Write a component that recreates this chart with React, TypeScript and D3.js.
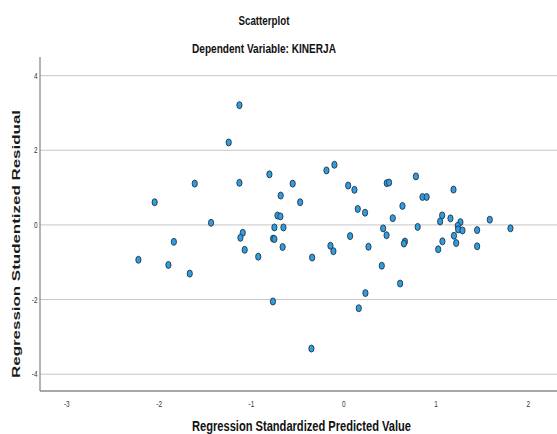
import React from "react";
import * as d3 from "d3";

const predicted: number[] = [
  -1.13, -1.246, -1.614, -1.13, -0.805, -2.048, -0.683, -0.718, -0.686, -1.437,
  -1.094, -1.119, -1.84, -1.073, -0.926, -2.224, -1.899, -1.668, -0.751, -0.653,
  -0.765, -0.751, -0.662, -0.472, -0.342, 0.152, 0.231, 0.636, 0.531, 0.427,
  0.464, 0.069, -0.144, -0.112, 0.268, 0.663, 0.652, 0.801, 1.066, 1.044,
  1.156, 1.264, 1.235, 1.239, 1.286, 1.445, 1.582, 1.806, 1.194, 1.069,
  1.218, 1.023, 1.445, 0.412, 0.611, 0.235, -0.767, 0.163, -0.35, -0.101,
  -0.187, -0.553, 0.048, 0.116, 0.466, 0.491, 0.782, 0.853, 0.898, 1.189,
];

const residual: number[] = [
  3.21, 2.21, 1.107, 1.128, 1.355, 0.608, 0.787, 0.253, 0.229, 0.056,
  -0.211, -0.344, -0.453, -0.667, -0.851, -0.933, -1.072, -1.304, -0.067, -0.067,
  -0.365, -0.379, -0.592, 0.608, -0.872, 0.429, 0.328, 0.509, 0.181, -0.093,
  -0.277, -0.299, -0.557, -0.704, -0.584, -0.445, -0.499, -0.053, 0.256, 0.093,
  0.176, 0.075, -0.024, -0.12, -0.147, -0.139, 0.141, -0.091, -0.291, -0.44,
  -0.485, -0.653, -0.573, -1.093, -1.571, -1.827, -2.051, -2.232, -3.312, 1.613,
  1.461, 1.107, 1.056, 0.941, 1.12, 1.136, 1.301, 0.749, 0.749, 0.947,
];

const xTicks: number[] = [-3, -2, -1, 0, 1, 2];
const yTicks: number[] = [-4, -2, 0, 2, 4];

const titleText = "Scatterplot";
const subtitleText = "Dependent Variable: KINERJA";
const xLabel = "Regression Standardized Predicted Value";
const yLabel = "Regression Studentized Residual";

const W = 557;
const H = 434;
const left = 40;
const right = 557;
const top = 57;
const bottom = 391;

export default function App() {
  const x = d3.scaleLinear().domain([-3.29, 2.31]).range([left, right]);
  const y = d3.scaleLinear().domain([-4.45, 4.5]).range([bottom, top]);
  const font = "'Liberation Sans', Arial, sans-serif";

  return (
    <svg
      width={W}
      height={H}
      style={{ position: "absolute", left: 0, top: 0, background: "#fff" }}
    >
      <rect x={0} y={0} width={W} height={H} fill="#fff" />
      {yTicks.map((t) => (
        <line
          key={"g" + t}
          x1={left}
          x2={W}
          y1={y(t)}
          y2={y(t)}
          stroke="#c6c6c6"
          strokeWidth={1}
        />
      ))}
      <line x1={left} x2={left} y1={top} y2={bottom} stroke="#8a8a8a" strokeWidth={1.3} />
      <line x1={left} x2={W} y1={bottom} y2={bottom} stroke="#8a8a8a" strokeWidth={1.3} />

      {yTicks.map((t) => (
        <text
          key={"yl" + t}
          transform={`translate(37.5, ${y(t) + 3}) scale(0.75, 1)`}
          textAnchor="end"
          fontFamily={font}
          fontSize={8.5}
          fill="#333"
        >
          {t}
        </text>
      ))}
      {xTicks.map((t) => (
        <text
          key={"xl" + t}
          transform={`translate(${x(t)}, 407) scale(0.75, 1)`}
          textAnchor="middle"
          fontFamily={font}
          fontSize={8.5}
          fill="#333"
        >
          {t}
        </text>
      ))}

      {predicted.map((p, i) => (
        <ellipse
          key={"p" + i}
          cx={x(p)}
          cy={y(residual[i])}
          rx={2.6}
          ry={3.5}
          fill="#2e9de2"
          stroke="#26333f"
          strokeWidth={0.9}
        />
      ))}

      <text
        x={264}
        y={24.5}
        textAnchor="middle"
        fontFamily={font}
        fontWeight="bold"
        fontSize={13}
        textLength={51}
        lengthAdjust="spacingAndGlyphs"
        fill="#111"
      >
        {titleText}
      </text>
      <text
        x={264}
        y={52.5}
        textAnchor="middle"
        fontFamily={font}
        fontWeight="bold"
        fontSize={13.5}
        textLength={144}
        lengthAdjust="spacingAndGlyphs"
        fill="#111"
      >
        {subtitleText}
      </text>
      <text
        x={301.5}
        y={431}
        textAnchor="middle"
        fontFamily={font}
        fontWeight="bold"
        fontSize={14}
        textLength={219}
        lengthAdjust="spacingAndGlyphs"
        fill="#111"
      >
        {xLabel}
      </text>
      <text
        transform="translate(19.5, 244) rotate(-90)"
        textAnchor="middle"
        fontFamily={font}
        fontWeight="bold"
        fontSize={11.5}
        textLength={268}
        lengthAdjust="spacingAndGlyphs"
        fill="#1a1a1a"
      >
        {yLabel}
      </text>
    </svg>
  );
}
